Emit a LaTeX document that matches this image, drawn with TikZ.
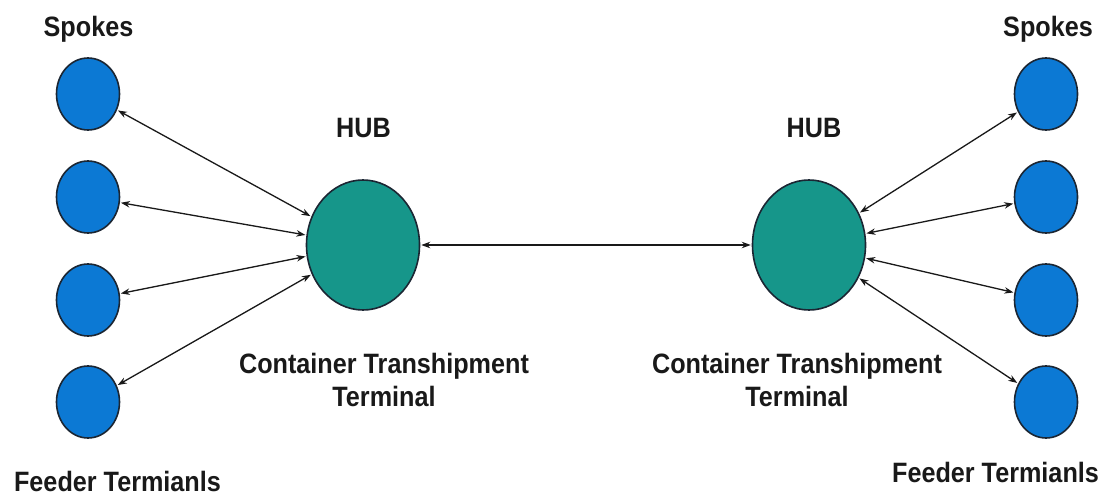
\documentclass[tikz,border=0pt]{standalone}
\usepackage{fontspec}
\setmainfont{Liberation Sans}
\newfontfamily\lblfont[FakeStretch=0.9]{Liberation Sans}
\usetikzlibrary{arrows.meta,shapes.geometric}
\definecolor{spokeblue}{HTML}{0C79D4}
\definecolor{hubteal}{HTML}{16968A}
\definecolor{rimdark}{HTML}{1B2633}
\begin{document}
\begin{tikzpicture}[x=1pt,y=-1pt,
  spoke/.style={ellipse,draw=rimdark,line width=1.6pt,fill=spokeblue,minimum width=63pt,minimum height=72pt,inner sep=0pt},
  hub/.style={ellipse,draw=rimdark,line width=1.6pt,fill=hubteal,minimum width=113pt,minimum height=130pt,inner sep=0pt},
  lbl/.style={font=\lblfont\bfseries\fontsize{28}{33}\selectfont,align=center,text=black!90,inner sep=0pt},
  link/.style={{Stealth[length=9pt,width=6.5pt]}-{Stealth[length=9pt,width=6.5pt]},line width=1.3pt,black!90,shorten <=1pt,shorten >=1pt}]
\useasboundingbox (0,0) rectangle (1105,495);
\fill[white] (0,0) rectangle (1105,495);
% left spokes
\node[spoke] (l1) at (88,94) {};
\node[spoke] (l2) at (88,197) {};
\node[spoke] (l3) at (88,300) {};
\node[spoke] (l4) at (88,402) {};
% right spokes
\node[spoke] (r1) at (1046,94) {};
\node[spoke] (r2) at (1046,197) {};
\node[spoke] (r3) at (1046,300) {};
\node[spoke] (r4) at (1046,402) {};
% hubs
\node[hub] (hl) at (363,245) {};
\node[hub] (hr) at (809,245) {};
% labels
\node[lbl] (tsl) at (88.5,29) {Spokes};
\node[lbl] (tsr) at (1048,29) {Spokes};
\node[lbl] (thl) at (363.5,128) {HUB};
\node[lbl] (thr) at (814,128) {HUB};
\node[lbl] (tcl) at (384,380) {Container Transhipment\\Terminal};
\node[lbl] (tcr) at (797,380) {Container Transhipment\\Terminal};
\node[lbl] (tfl) at (117.5,481) {Feeder Termianls};
\node[lbl] (tfr) at (995.5,472) {Feeder Termianls};
% connectors
\foreach \s in {l1,l2,l3,l4} \draw[link] (\s) -- (hl);
\foreach \s in {r1,r2,r3,r4} \draw[link] (\s) -- (hr);
\draw[link] (hl) -- (hr);
\end{tikzpicture}
\end{document}
